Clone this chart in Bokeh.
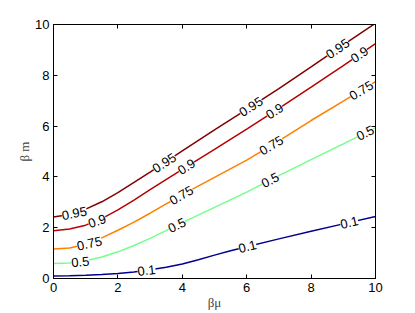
import numpy as np
from bokeh.plotting import figure
from bokeh.models import LinearAxis, FixedTicker, Range1d, ColumnDataSource
from bokeh.core.properties import value
from bokeh.embed import file_html
from bokeh.resources import INLINE

# ---- data ----
levels = ["0.95", "0.9", "0.75", "0.5", "0.1"]
colors = ["#800000", "#b80000", "#ff7f00", "#74ff8b", "#00008f"]

x_common = [0, 0.5, 1, 1.5, 2, 2.5, 3, 4, 5, 6, 7, 8, 9, 10]
y_095 = [2.42, 2.52, 2.73, 3.02, 3.38, 3.78, 4.19, 5.02, 5.85, 6.66, 7.48, 8.33, 9.2, 10.05]
y_090 = [1.88, 1.95, 2.1, 2.36, 2.7, 3.09, 3.5, 4.3, 5.08, 5.88, 6.7, 7.53, 8.38, 9.25]
y_075 = [1.16, 1.2, 1.35, 1.6, 1.9, 2.22, 2.57, 3.3, 3.98, 4.66, 5.42, 6.22, 6.98, 7.75]
y_050 = [0.59, 0.61, 0.7, 0.85, 1.05, 1.3, 1.58, 2.2, 2.8, 3.4, 4.05, 4.68, 5.3, 5.93]
x_010 = [0, 0.5, 1, 1.5, 2, 2.5, 3, 3.5, 4, 4.5, 5, 5.5, 6, 7, 8, 9, 10]
y_010 = [0.1, 0.11, 0.13, 0.16, 0.2, 0.26, 0.34, 0.44, 0.57, 0.74, 0.92, 1.09, 1.25, 1.56, 1.86, 2.15, 2.44]

label_x_095 = [0.26, 3.11, 5.8, 8.5]
label_x_090 = [1.09, 3.89, 6.63, 9.27]
label_x_075 = [0.73, 3.63, 6.43, 9.22]
label_x_050 = [0.55, 3.58, 6.48, 9.43]
label_x_010 = [2.61, 5.75, 8.91]

x_ticks = [0, 2, 4, 6, 8, 10]
y_ticks = [0, 2, 4, 6, 8, 10]

curves = [
    (x_common, y_095, label_x_095),
    (x_common, y_090, label_x_090),
    (x_common, y_075, label_x_075),
    (x_common, y_050, label_x_050),
    (x_010, y_010, label_x_010),
]

FW, FH = 322, 254

p = figure(frame_width=FW, frame_height=FH, output_backend="svg", toolbar_location=None,
           x_range=Range1d(0, 10), y_range=Range1d(0, 10),
           min_border_left=53, min_border_right=36, min_border_top=24, min_border_bottom=33)
p.background_fill_color = "white"
p.border_fill_color = "white"
p.outline_line_color = "black"
p.outline_line_width = 1
p.xgrid.visible = False
p.ygrid.visible = False

sx = FW / 10.0
sy = FH / 10.0

for (cx, cy, lx), lev, col in zip(curves, levels, colors):
    p.line(cx, cy, line_color=col, line_width=1.5)
    cx_a = np.array(cx, dtype=float)
    cy_a = np.array(cy, dtype=float)
    lx_a = np.array(lx, dtype=float)
    ly_a = np.interp(lx_a, cx_a, cy_a)
    d = 0.35
    slope = (np.interp(lx_a + d, cx_a, cy_a) - np.interp(lx_a - d, cx_a, cy_a)) / (
        np.minimum(lx_a + d, 10) - np.maximum(lx_a - d, 0))
    ang = np.arctan(slope * sy / sx)
    src = ColumnDataSource(dict(x=lx_a, y=ly_a, a=ang, t=[lev] * len(lx)))
    p.text(x="x", y="y", text="t", angle="a", source=src,
           text_font=value("Liberation Sans"), text_font_size="13px",
           text_color="black", text_align="left", text_baseline="middle",
           background_fill_color="white")

for ax in (p.xaxis[0], p.yaxis[0]):
    ax.axis_line_color = "black"
    ax.major_tick_in = 4
    ax.major_tick_out = 0
    ax.minor_tick_line_color = None
    ax.major_label_text_font = "Liberation Sans"
    ax.major_label_text_font_size = "13px"
    ax.major_label_text_color = "black"
    ax.axis_label_text_font = "Liberation Serif"
    ax.axis_label_text_font_size = "13px"
    ax.axis_label_text_font_style = "normal"
    ax.axis_label_text_color = "#444444"

p.xaxis.ticker = FixedTicker(ticks=x_ticks)
p.yaxis.ticker = FixedTicker(ticks=y_ticks)
p.xaxis.axis_label = "βμ"
p.yaxis.axis_label = "β m"
p.xaxis.major_label_standoff = 4
p.yaxis.major_label_standoff = 4
p.xaxis.axis_label_standoff = 0
p.yaxis.axis_label_standoff = 0

top = LinearAxis(ticker=FixedTicker(ticks=x_ticks), major_label_overrides={t: "" for t in x_ticks})
right = LinearAxis(ticker=FixedTicker(ticks=y_ticks), major_label_overrides={t: "" for t in y_ticks})
for ax in (top, right):
    ax.axis_line_color = "black"
    ax.major_tick_in = 4
    ax.major_tick_out = 0
    ax.minor_tick_line_color = None
    ax.major_label_standoff = 0
p.add_layout(top, "above")
p.add_layout(right, "right")

open("out.html", "w").write(file_html(p, INLINE))
